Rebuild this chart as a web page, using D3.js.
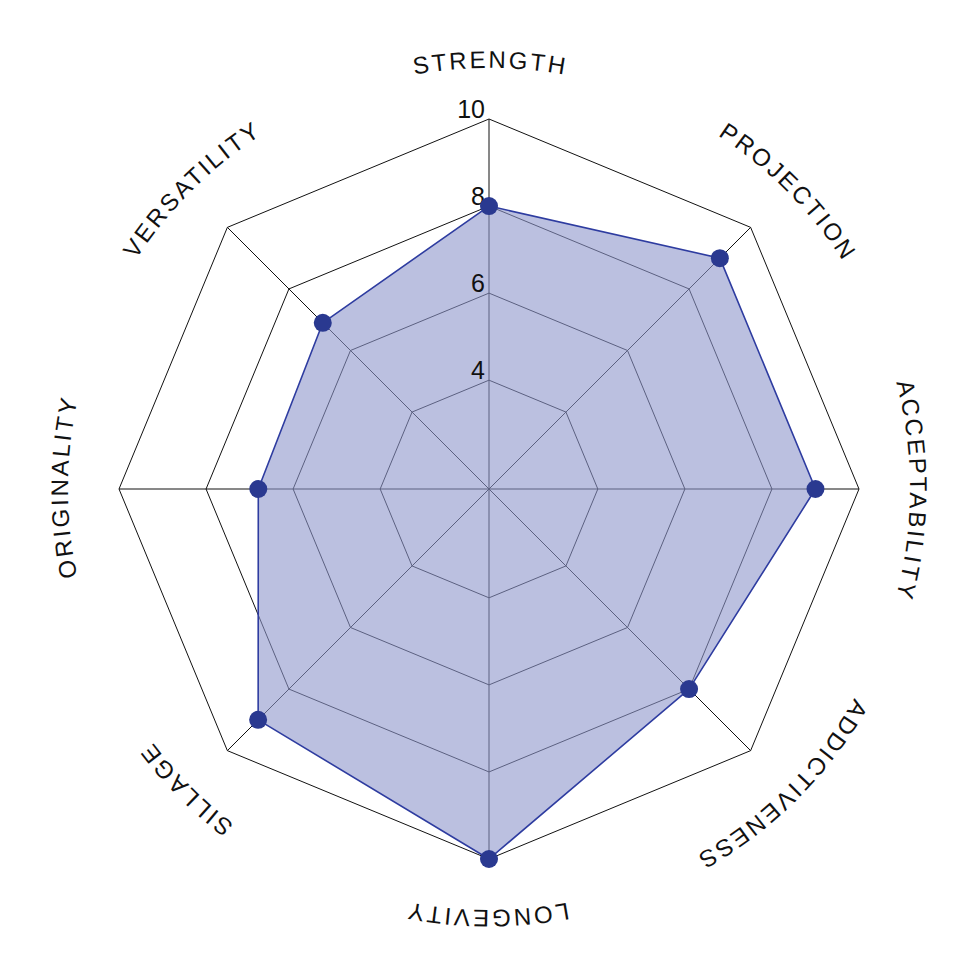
<!DOCTYPE html>
<html>
<head>
<meta charset="utf-8">
<script src="https://cdn.jsdelivr.net/npm/d3@7"></script>
<style>
  body { margin: 0; background: #fff; }
  svg { display: block; }
</style>
</head>
<body>
<svg id="chart" width="980" height="980"></svg>
<script>
const axes = ['STRENGTH', 'PROJECTION', 'ACCEPTABILITY', 'ADDICTIVENESS', 'LONGEVITY', 'SILLAGE', 'ORIGINALITY', 'VERSATILITY'];
const scores = [8, 9, 9, 8, 10, 9, 6.8, 6.9];
const ringValues = [4, 6, 8, 10];
const ringLabels = ['4', '6', '8', '10'];

const svg = d3.select('#chart');
const cx = 489;
const cy = 489;
const outerR = 370;
const labelR = 421;

const r = d3.scaleLinear()
  .domain([1.5, 10])
  .range([0, outerR]);

// angle 0 at top, clockwise
const angle = d3.scaleLinear()
  .domain([0, axes.length])
  .range([0, 2 * Math.PI]);

const px = (i, v) => cx + r(v) * Math.sin(angle(i));
const py = (i, v) => cy - r(v) * Math.cos(angle(i));

const g = svg.append('g');

// rings
ringValues.forEach(v => {
  g.append('path')
    .attr('d', d3.line()(axes.map((a, i) => [px(i, v), py(i, v)])) + 'Z')
    .attr('fill', 'none')
    .attr('stroke', '#111')
    .attr('stroke-width', 1);
});

// spokes
axes.forEach((a, i) => {
  g.append('line')
    .attr('x1', cx).attr('y1', cy)
    .attr('x2', px(i, 10)).attr('y2', py(i, 10))
    .attr('stroke', '#111')
    .attr('stroke-width', 1);
});

// data area
const pts = scores.map((v, i) => [px(i, v), py(i, v)]);
g.append('path')
  .attr('d', d3.line()(pts) + 'Z')
  .attr('fill', '#8d96cc')
  .attr('fill-opacity', 0.6)
  .attr('stroke', '#2e3ca0')
  .attr('stroke-width', 1.6)
  .attr('stroke-linejoin', 'round');

// ring labels along the top spoke
g.selectAll('text.tick')
  .data(ringValues)
  .join('text')
  .attr('class', 'tick')
  .attr('x', cx - 4)
  .attr('y', v => cy - r(v) - 1)
  .attr('text-anchor', 'end')
  .attr('font-family', '"Liberation Sans", Arial, sans-serif')
  .attr('font-size', 25)
  .attr('fill', '#111')
  .text((v, i) => ringLabels[i]);

// points
g.selectAll('circle.pt')
  .data(pts)
  .join('circle')
  .attr('class', 'pt')
  .attr('cx', d => d[0])
  .attr('cy', d => d[1])
  .attr('r', 9)
  .attr('fill', '#2a3990');

// axis labels on a circle running clockwise, starting between VERSATILITY and STRENGTH
const a0 = -Math.PI / 2 - Math.PI / axes.length;
const arcPath = d3.path();
arcPath.moveTo(cx + labelR * Math.cos(a0), cy + labelR * Math.sin(a0));
arcPath.arc(cx, cy, labelR, a0, a0 + Math.PI);
arcPath.arc(cx, cy, labelR, a0 + Math.PI, a0 + 2 * Math.PI - 0.0001);

svg.append('defs').append('path')
  .attr('id', 'labelArc')
  .attr('d', arcPath.toString());

g.selectAll('text.axis')
  .data(axes)
  .join('text')
  .attr('class', 'axis')
  .attr('font-family', '"Liberation Sans", Arial, sans-serif')
  .attr('font-size', 24)
  .attr('letter-spacing', 2.6)
  .attr('fill', '#111')
  .append('textPath')
  .attr('href', '#labelArc')
  .attr('text-anchor', 'middle')
  .attr('startOffset', (d, i) => labelR * (angle(i) + Math.PI / axes.length) + 1.3)
  .text(d => d);
</script>
</body>
</html>
